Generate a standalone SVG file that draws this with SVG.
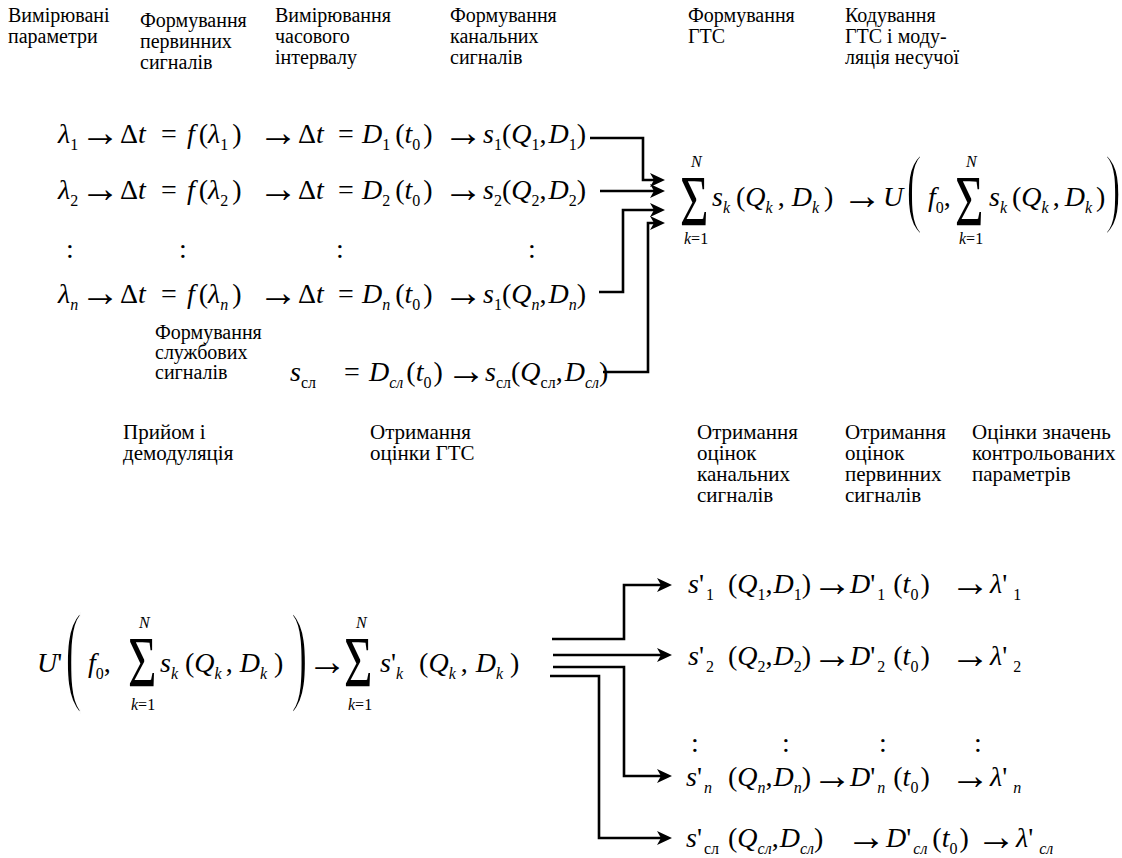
<svg xmlns="http://www.w3.org/2000/svg" width="1122" height="858" viewBox="0 0 1122 858" font-family="'Liberation Serif', 'Times New Roman', Tinos, serif">
<style>
  text{font-family:"Liberation Serif","Times New Roman",Tinos,serif;fill:#000}
  .lb{font-size:20px}
  .lb2{font-size:21px}
  .m{font-size:28px}
  .i{font-style:italic}
  .sb{font-size:16px}
  .ar{font-size:40px}
  .sig{font-size:72px}
  .par{stroke:#fff}
  .wire{fill:none;stroke:#000;stroke-width:2.6}
</style>
<defs>
  <marker id="ah" markerUnits="userSpaceOnUse" markerWidth="16" markerHeight="14" refX="10" refY="7" orient="auto">
    <path d="M0,0 L15,7 L0,14 L4,7 Z" fill="#000"/>
  </marker>
</defs>

<!-- column headings, transmitting side -->
<g id="h-params"><text class="lb" x="8" y="22">Вимірювані</text><text class="lb" x="8" y="43">параметри</text></g>
<g id="h-primary"><text class="lb" x="140" y="27">Формування</text><text class="lb" x="140" y="48">первинних</text><text class="lb" x="140" y="69">сигналів</text></g>
<g id="h-interval"><text class="lb" x="275" y="22">Вимірювання</text><text class="lb" x="275" y="43">часового</text><text class="lb" x="275" y="64">інтервалу</text></g>
<g id="h-channel"><text class="lb" x="450" y="22">Формування</text><text class="lb" x="450" y="43">канальних</text><text class="lb" x="450" y="64">сигналів</text></g>
<g id="h-gts"><text class="lb" x="688" y="22">Формування</text><text class="lb" x="688" y="43">ГТС</text></g>
<g id="h-coding"><text class="lb" x="845" y="22">Кодування</text><text class="lb" x="845" y="43">ГТС і моду-</text><text class="lb" x="845" y="64">ляція несучої</text></g>

<!-- channel rows -->
<g id="row-1"><text class="m" y="143"><tspan x="58" class="i">λ</tspan><tspan class="sb" y="150">1</tspan><tspan x="80" y="146" class="ar">→</tspan><tspan x="120" y="143">Δ</tspan><tspan class="i">t</tspan><tspan x="161">=</tspan><tspan x="187" class="i">f</tspan><tspan dx="4">(</tspan><tspan class="i">λ</tspan><tspan class="sb" y="150">1</tspan><tspan y="143" dx="4">)</tspan><tspan x="258" y="146" class="ar">→</tspan><tspan x="298" y="143">Δ</tspan><tspan class="i">t</tspan><tspan x="338">=</tspan><tspan x="362" class="i">D</tspan><tspan class="sb" y="150">1</tspan><tspan y="143" dx="5">(</tspan><tspan class="i">t</tspan><tspan class="sb" y="150">0</tspan><tspan y="143" dx="3">)</tspan><tspan x="443" y="146" class="ar">→</tspan><tspan x="483" y="143" class="i">s</tspan><tspan class="sb" y="150">1</tspan><tspan y="143">(</tspan><tspan class="i">Q</tspan><tspan class="sb" y="150">1</tspan><tspan y="143">,</tspan><tspan class="i" dx="2">D</tspan><tspan class="sb" y="150">1</tspan><tspan y="143">)</tspan></text></g>

<g id="row-2"><text class="m" y="199"><tspan x="58" class="i">λ</tspan><tspan class="sb" y="206">2</tspan><tspan x="80" y="202" class="ar">→</tspan><tspan x="120" y="199">Δ</tspan><tspan class="i">t</tspan><tspan x="161">=</tspan><tspan x="187" class="i">f</tspan><tspan dx="4">(</tspan><tspan class="i">λ</tspan><tspan class="sb" y="206">2</tspan><tspan y="199" dx="4">)</tspan><tspan x="258" y="202" class="ar">→</tspan><tspan x="298" y="199">Δ</tspan><tspan class="i">t</tspan><tspan x="338">=</tspan><tspan x="362" class="i">D</tspan><tspan class="sb" y="206">2</tspan><tspan y="199" dx="5">(</tspan><tspan class="i">t</tspan><tspan class="sb" y="206">0</tspan><tspan y="199" dx="3">)</tspan><tspan x="443" y="202" class="ar">→</tspan><tspan x="483" y="199" class="i">s</tspan><tspan class="sb" y="206">2</tspan><tspan y="199">(</tspan><tspan class="i">Q</tspan><tspan class="sb" y="206">2</tspan><tspan y="199">,</tspan><tspan class="i" dx="2">D</tspan><tspan class="sb" y="206">2</tspan><tspan y="199">)</tspan></text></g>

<g id="row-dots"><text class="m" y="258"><tspan x="66">:</tspan><tspan x="179">:</tspan><tspan x="336">:</tspan><tspan x="528">:</tspan></text></g>

<g id="row-n"><text class="m" y="303"><tspan x="58" class="i">λ</tspan><tspan class="sb i" y="310">n</tspan><tspan x="80" y="306" class="ar">→</tspan><tspan x="120" y="303">Δ</tspan><tspan class="i">t</tspan><tspan x="161">=</tspan><tspan x="187" class="i">f</tspan><tspan dx="4">(</tspan><tspan class="i">λ</tspan><tspan class="sb i" y="310">n</tspan><tspan y="303" dx="4">)</tspan><tspan x="258" y="306" class="ar">→</tspan><tspan x="298" y="303">Δ</tspan><tspan class="i">t</tspan><tspan x="338">=</tspan><tspan x="362" class="i">D</tspan><tspan class="sb i" y="310">n</tspan><tspan y="303" dx="5">(</tspan><tspan class="i">t</tspan><tspan class="sb" y="310">0</tspan><tspan y="303" dx="3">)</tspan><tspan x="443" y="306" class="ar">→</tspan><tspan x="483" y="303" class="i">s</tspan><tspan class="sb" y="310">1</tspan><tspan y="303">(</tspan><tspan class="i">Q</tspan><tspan class="sb i" y="310">n</tspan><tspan y="303">,</tspan><tspan class="i" dx="2">D</tspan><tspan class="sb i" y="310">n</tspan><tspan y="303">)</tspan></text></g>

<!-- service signal -->
<g id="h-service"><text class="lb" x="155" y="339">Формування</text><text class="lb" x="155" y="359">службових</text><text class="lb" x="155" y="379">сигналів</text></g>
<g id="row-service"><text class="m" y="381"><tspan x="290" class="i">s</tspan><tspan class="sb" y="388">сл</tspan><tspan x="344" y="381">=</tspan><tspan x="369" class="i">D</tspan><tspan class="sb i" y="388">сл</tspan><tspan y="381" dx="3">(</tspan><tspan class="i">t</tspan><tspan class="sb" y="388">0</tspan><tspan y="381" dx="2">)</tspan><tspan x="446" y="384" class="ar">→</tspan><tspan x="485" y="381" class="i">s</tspan><tspan class="sb" y="388">сл</tspan><tspan y="381">(</tspan><tspan class="i">Q</tspan><tspan class="sb" y="388">сл</tspan><tspan y="381">,</tspan><tspan class="i" dx="2">D</tspan><tspan class="sb i" y="388">сл</tspan><tspan y="381">)</tspan></text></g>

<!-- group signal and modulation -->
<g id="gts">
  <text class="sig" transform="translate(680,225) scale(0.68,1)">Σ</text>
  <text class="sb i" x="691" y="167">N</text>
  <text class="sb" x="684" y="244"><tspan class="i">k</tspan>=1</text>
  <text class="m" y="206"><tspan x="712" class="i">s</tspan><tspan class="sb i" y="213">k</tspan><tspan y="206" dx="6">(</tspan><tspan class="i">Q</tspan><tspan class="sb i" y="213">k</tspan><tspan y="206" dx="5">,</tspan><tspan class="i" dx="7">D</tspan><tspan class="sb i" y="213">k</tspan><tspan y="206" dx="5">)</tspan></text>
</g>
<g id="modulated">
  <text class="m" y="209"><tspan x="842" class="ar">→</tspan></text>
  <text class="m i" x="883" y="206">U</text>
  <text class="par" style="font-size:88px;stroke-width:2.5" transform="translate(906,216) scale(0.55,1)">(</text>
  <text class="m" y="206"><tspan x="928" class="i">f</tspan><tspan class="sb" y="213">0</tspan><tspan y="206">,</tspan></text>
  <text class="sig" transform="translate(955,225) scale(0.68,1)">Σ</text>
  <text class="sb i" x="966" y="167">N</text>
  <text class="sb" x="959" y="244"><tspan class="i">k</tspan>=1</text>
  <text class="m" y="206"><tspan x="989" class="i">s</tspan><tspan class="sb i" y="213">k</tspan><tspan y="206" dx="5">(</tspan><tspan class="i">Q</tspan><tspan class="sb i" y="213">k</tspan><tspan y="206" dx="4">,</tspan><tspan class="i" dx="5">D</tspan><tspan class="sb i" y="213">k</tspan><tspan y="206" dx="4">)</tspan></text>
  <text class="par" style="font-size:88px;stroke-width:2.5" transform="translate(1105,216) scale(0.55,1)">)</text>
</g>

<!-- column headings, receiving side -->
<g id="h-demod"><text class="lb2" x="123" y="439">Прийом і</text><text class="lb2" x="123" y="460">демодуляція</text></g>
<g id="h-gts-est"><text class="lb2" x="370" y="439">Отримання</text><text class="lb2" x="370" y="460">оцінки ГТС</text></g>
<g id="h-channel-est"><text class="lb2" x="697" y="439">Отримання</text><text class="lb2" x="697" y="460">оцінок</text><text class="lb2" x="697" y="481">канальних</text><text class="lb2" x="697" y="502">сигналів</text></g>
<g id="h-primary-est"><text class="lb2" x="845" y="439">Отримання</text><text class="lb2" x="845" y="460">оцінок</text><text class="lb2" x="845" y="481">первинних</text><text class="lb2" x="845" y="502">сигналів</text></g>
<g id="h-values"><text class="lb2" x="972" y="439">Оцінки значень</text><text class="lb2" x="972" y="460">контрольованих</text><text class="lb2" x="972" y="481">параметрів</text></g>

<!-- demodulation -->
<g id="demod">
  <text class="m" y="672"><tspan x="37" class="i">U</tspan><tspan>'</tspan></text>
  <text class="par" style="font-size:112px;stroke-width:3" transform="translate(65,690) scale(0.45,1)">(</text>
  <text class="m" y="672"><tspan x="88" class="i">f</tspan><tspan class="sb" y="679">0</tspan><tspan y="672">,</tspan></text>
  <text class="sig" transform="translate(128,686) scale(0.68,1)">Σ</text>
  <text class="sb i" x="139" y="628">N</text>
  <text class="sb" x="131" y="710"><tspan class="i">k</tspan>=1</text>
  <text class="m" y="672"><tspan x="160" class="i">s</tspan><tspan class="sb i" y="679">k</tspan><tspan y="672" dx="7">(</tspan><tspan class="i">Q</tspan><tspan class="sb i" y="679">k</tspan><tspan y="672" dx="4">,</tspan><tspan class="i" dx="7">D</tspan><tspan class="sb i" y="679">k</tspan><tspan y="672" dx="7">)</tspan></text>
  <text class="par" style="font-size:112px;stroke-width:3" transform="translate(291,690) scale(0.45,1)">)</text>
</g>
<g id="gts-est">
  <text class="m" y="675"><tspan x="307" class="ar">→</tspan></text>
  <text class="sig" transform="translate(344,686) scale(0.68,1)">Σ</text>
  <text class="sb i" x="356" y="628">N</text>
  <text class="sb" x="348" y="710"><tspan class="i">k</tspan>=1</text>
  <text class="m" y="672"><tspan x="380" class="i">s</tspan><tspan>'</tspan><tspan class="sb i" y="679">k</tspan><tspan y="672" dx="16">(</tspan><tspan class="i">Q</tspan><tspan class="sb i" y="679">k</tspan><tspan y="672" dx="5">,</tspan><tspan class="i" dx="8">D</tspan><tspan class="sb i" y="679">k</tspan><tspan y="672" dx="7">)</tspan></text>
</g>

<!-- estimate rows -->
<g id="out-1"><text class="m" y="593"><tspan x="688" class="i">s</tspan><tspan>'</tspan><tspan class="sb" y="600" dx="2">1</tspan><tspan x="728" y="593">(</tspan><tspan class="i">Q</tspan><tspan class="sb" y="600">1</tspan><tspan y="593">,</tspan><tspan class="i" dx="1">D</tspan><tspan class="sb" y="600">1</tspan><tspan y="593">)</tspan><tspan x="812" y="596" class="ar">→</tspan><tspan x="850" y="593" class="i">D</tspan><tspan>'</tspan><tspan class="sb" y="600" dx="2">1</tspan><tspan y="593" dx="8">(</tspan><tspan class="i">t</tspan><tspan class="sb" y="600">0</tspan><tspan y="593" dx="2">)</tspan><tspan x="950" y="596" class="ar">→</tspan><tspan x="990" y="593" class="i">λ</tspan><tspan>'</tspan><tspan class="sb" y="600" dx="6">1</tspan></text></g>

<g id="out-2"><text class="m" y="665"><tspan x="688" class="i">s</tspan><tspan>'</tspan><tspan class="sb" y="672" dx="2">2</tspan><tspan x="728" y="665">(</tspan><tspan class="i">Q</tspan><tspan class="sb" y="672">2</tspan><tspan y="665">,</tspan><tspan class="i" dx="1">D</tspan><tspan class="sb" y="672">2</tspan><tspan y="665">)</tspan><tspan x="812" y="668" class="ar">→</tspan><tspan x="850" y="665" class="i">D</tspan><tspan>'</tspan><tspan class="sb" y="672" dx="2">2</tspan><tspan y="665" dx="8">(</tspan><tspan class="i">t</tspan><tspan class="sb" y="672">0</tspan><tspan y="665" dx="2">)</tspan><tspan x="950" y="668" class="ar">→</tspan><tspan x="990" y="665" class="i">λ</tspan><tspan>'</tspan><tspan class="sb" y="672" dx="6">2</tspan></text></g>

<g id="out-dots"><text class="m" y="752"><tspan x="691">:</tspan><tspan x="782">:</tspan><tspan x="879">:</tspan><tspan x="974">:</tspan></text></g>

<g id="out-n"><text class="m" y="786"><tspan x="686" class="i">s</tspan><tspan>'</tspan><tspan class="sb i" y="793" dx="2">n</tspan><tspan x="728" y="786">(</tspan><tspan class="i">Q</tspan><tspan class="sb i" y="793">n</tspan><tspan y="786">,</tspan><tspan class="i" dx="1">D</tspan><tspan class="sb i" y="793">n</tspan><tspan y="786">)</tspan><tspan x="812" y="789" class="ar">→</tspan><tspan x="850" y="786" class="i">D</tspan><tspan>'</tspan><tspan class="sb i" y="793" dx="2">n</tspan><tspan y="786" dx="8">(</tspan><tspan class="i">t</tspan><tspan class="sb" y="793">0</tspan><tspan y="786" dx="2">)</tspan><tspan x="950" y="789" class="ar">→</tspan><tspan x="990" y="786" class="i">λ</tspan><tspan>'</tspan><tspan class="sb i" y="793" dx="6">n</tspan></text></g>

<g id="out-service"><text class="m" y="847"><tspan x="686" class="i">s</tspan><tspan>'</tspan><tspan class="sb" y="854" dx="2">сл</tspan><tspan x="728" y="847">(</tspan><tspan class="i">Q</tspan><tspan class="sb i" y="854">сл</tspan><tspan y="847">,</tspan><tspan class="i" dx="1">D</tspan><tspan class="sb i" y="854">сл</tspan><tspan y="847">)</tspan><tspan x="846" y="850" class="ar">→</tspan><tspan x="886" y="847" class="i">D</tspan><tspan>'</tspan><tspan class="sb i" y="854" dx="2">сл</tspan><tspan y="847" dx="5">(</tspan><tspan class="i">t</tspan><tspan class="sb" y="854">0</tspan><tspan y="847" dx="2">)</tspan><tspan x="976" y="850" class="ar">→</tspan><tspan x="1016" y="847" class="i">λ</tspan><tspan>'</tspan><tspan class="sb i" y="854" dx="6">сл</tspan></text></g>

<!-- connectors -->
<g id="connectors" class="wire">
  <path d="M590,138 H643 V180 H660" marker-end="url(#ah)"/>
  <path d="M600,191 H660" marker-end="url(#ah)"/>
  <path d="M599,292 H623 V210 H660" marker-end="url(#ah)"/>
  <path d="M603,372 H648 V223 H660" marker-end="url(#ah)"/>
  <path d="M552,639 H624 V585 H667" marker-end="url(#ah)"/>
  <path d="M553,655 H667" marker-end="url(#ah)"/>
  <path d="M553,667 H624 V776 H667" marker-end="url(#ah)"/>
  <path d="M550,676 H599 V838 H667" marker-end="url(#ah)"/>
</g>
</svg>
